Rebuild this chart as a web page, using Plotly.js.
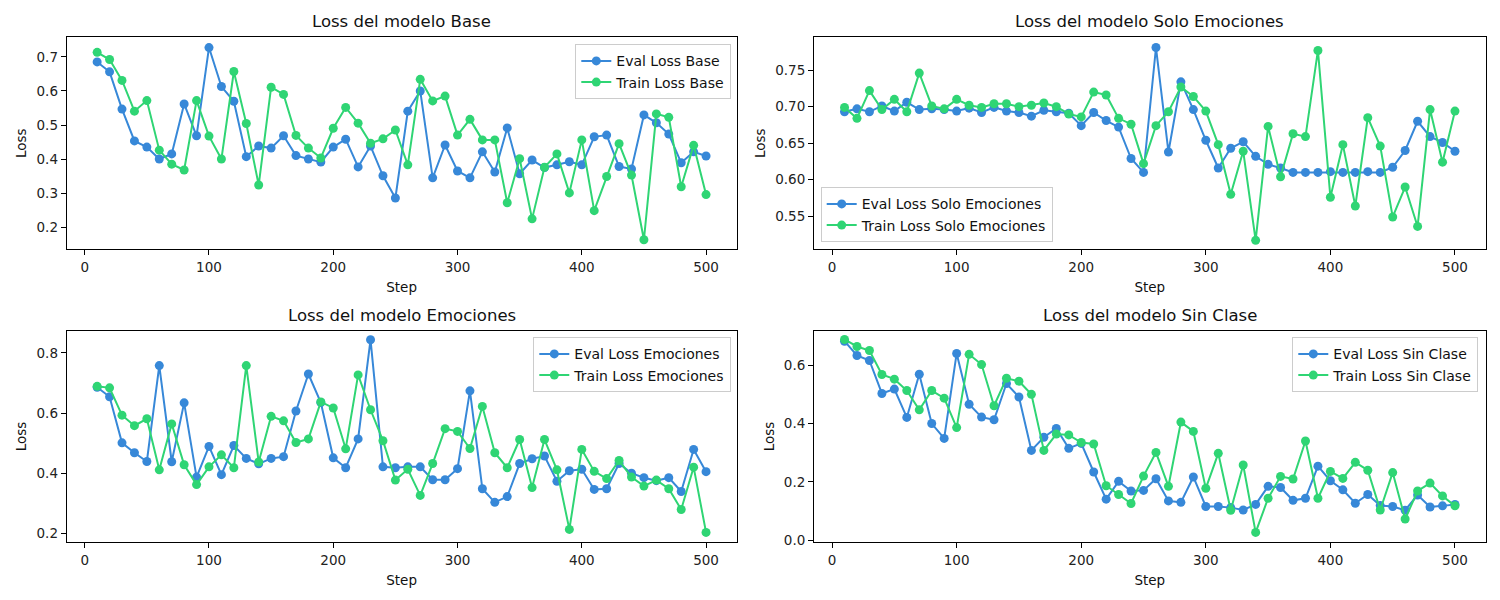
<!DOCTYPE html>
<html>
<head>
<meta charset="utf-8">
<script src="https://cdn.plot.ly/plotly-3.0.1.min.js"></script>
<style>
  html, body { margin: 0; padding: 0; background: #ffffff; }
  #chart { width: 1500px; height: 600px; }
</style>
</head>
<body>
<div id="chart"></div>
<script>
// ---- Data ----
const steps = [10,20,30,40,50,60,70,80,90,100,110,120,130,140,150,160,170,180,190,200,
  210,220,230,240,250,260,270,280,290,300,310,320,330,340,350,360,370,380,390,400,
  410,420,430,440,450,460,470,480,490,500];

const baseEval = [0.685,0.656,0.547,0.454,0.436,0.401,0.416,0.562,0.469,0.727,0.613,0.570,0.408,0.439,0.433,0.469,0.411,0.401,0.392,0.436,0.459,0.378,0.439,0.352,0.287,
  0.541,0.600,0.346,0.442,0.366,0.346,0.422,0.363,0.492,0.358,0.398,0.376,0.384,0.393,0.384,0.466,0.471,0.379,0.372,0.530,0.507,0.474,0.390,0.422,0.410];
const baseTrain = [0.713,0.692,0.631,0.541,0.572,0.427,0.386,0.369,0.572,0.468,0.401,0.657,0.505,0.325,0.611,0.590,0.470,0.433,0.404,0.491,0.552,0.506,0.447,0.460,0.486,
  0.384,0.634,0.571,0.585,0.471,0.517,0.457,0.457,0.273,0.402,0.226,0.377,0.416,0.302,0.457,0.250,0.350,0.446,0.354,0.165,0.533,0.523,0.320,0.441,0.297];

const soloEval = [0.693,0.697,0.693,0.701,0.694,0.706,0.696,0.697,0.696,0.694,0.698,0.692,0.699,0.694,0.692,0.687,0.695,0.693,0.691,0.674,0.692,0.681,0.672,0.629,0.610,
  0.781,0.638,0.734,0.696,0.654,0.616,0.643,0.652,0.632,0.621,0.616,0.610,0.610,0.610,0.611,0.610,0.610,0.611,0.610,0.617,0.640,0.680,0.659,0.651,0.639];
const soloTrain = [0.699,0.684,0.722,0.696,0.710,0.693,0.746,0.701,0.697,0.710,0.702,0.699,0.704,0.704,0.700,0.702,0.705,0.700,0.690,0.686,0.720,0.716,0.684,0.676,0.622,
  0.674,0.693,0.727,0.714,0.694,0.648,0.580,0.639,0.517,0.673,0.604,0.663,0.659,0.777,0.576,0.648,0.564,0.685,0.646,0.549,0.590,0.536,0.696,0.624,0.694];

const emoEval = [0.686,0.654,0.501,0.468,0.439,0.758,0.438,0.634,0.387,0.489,0.395,0.492,0.449,0.431,0.449,0.455,0.607,0.730,0.635,0.451,0.418,0.514,0.844,0.421,0.418,
  0.421,0.421,0.378,0.378,0.415,0.674,0.348,0.303,0.322,0.432,0.448,0.457,0.373,0.408,0.413,0.346,0.348,0.432,0.400,0.385,0.375,0.385,0.339,0.479,0.405];
const emoTrain = [0.689,0.684,0.593,0.558,0.581,0.411,0.564,0.428,0.362,0.421,0.461,0.418,0.758,0.437,0.589,0.574,0.502,0.514,0.637,0.617,0.481,0.727,0.611,0.508,0.377,
  0.413,0.326,0.432,0.548,0.539,0.482,0.622,0.468,0.418,0.512,0.352,0.512,0.411,0.213,0.479,0.406,0.382,0.442,0.387,0.357,0.377,0.348,0.279,0.420,0.203];

const sinEval = [0.682,0.633,0.616,0.503,0.518,0.421,0.569,0.400,0.349,0.640,0.466,0.422,0.413,0.537,0.491,0.308,0.353,0.383,0.315,0.332,0.234,0.141,0.202,0.169,0.171,
  0.211,0.135,0.130,0.217,0.116,0.116,0.112,0.104,0.123,0.185,0.181,0.137,0.144,0.254,0.204,0.173,0.127,0.157,0.119,0.116,0.103,0.155,0.114,0.118,0.123];
const sinTrain = [0.688,0.664,0.650,0.568,0.552,0.513,0.447,0.513,0.487,0.386,0.637,0.602,0.461,0.555,0.545,0.500,0.308,0.364,0.361,0.335,0.330,0.187,0.157,0.126,0.220,
  0.301,0.185,0.405,0.373,0.178,0.298,0.103,0.258,0.027,0.144,0.219,0.210,0.340,0.144,0.236,0.212,0.267,0.240,0.104,0.232,0.073,0.169,0.196,0.152,0.118];

const modelNames = ["Base", "Solo Emociones", "Emociones", "Sin Clase"];
const titles = modelNames.map(n => "Loss del modelo " + n);

// ---- Styling ----
const BLUE = "#3788d8";
const GREEN = "#2fd574";
const FONT = "DejaVu Sans, Liberation Sans, sans-serif";

function mk(x, y, name, color, xa, ya, leg) {
  return {
    x: x, y: y, name: name, type: "scatter", mode: "lines+markers",
    line: {color: color, width: 2},
    marker: {color: color, size: 9},
    xaxis: xa, yaxis: ya, legend: leg
  };
}

const data = [
  mk(steps, baseEval, "Eval Loss " + modelNames[0], BLUE, "x", "y", "legend"),
  mk(steps, baseTrain, "Train Loss " + modelNames[0], GREEN, "x", "y", "legend"),
  mk(steps, soloEval, "Eval Loss " + modelNames[1], BLUE, "x2", "y2", "legend2"),
  mk(steps, soloTrain, "Train Loss " + modelNames[1], GREEN, "x2", "y2", "legend2"),
  mk(steps, emoEval, "Eval Loss " + modelNames[2], BLUE, "x3", "y3", "legend3"),
  mk(steps, emoTrain, "Train Loss " + modelNames[2], GREEN, "x3", "y3", "legend3"),
  mk(steps, sinEval, "Eval Loss " + modelNames[3], BLUE, "x4", "y4", "legend4"),
  mk(steps, sinTrain, "Train Loss " + modelNames[3], GREEN, "x4", "y4", "legend4")
];

const W = 1500, H = 600;
const colX = [[66.7/W, 736.5/W], [814/W, 1485.5/W]];
const rowY = [[1 - 249.3/H, 1 - 37.3/H], [1 - 542.3/H, 1 - 330.7/H]];

function xax(dom, anchor) {
  return {
    domain: dom, anchor: anchor, range: [-14.5, 524.5],
    tickmode: "linear", tick0: 0, dtick: 100,
    showline: true, mirror: true, linecolor: "#000", linewidth: 1,
    ticks: "outside", ticklen: 5, tickwidth: 1, tickcolor: "#000",
    showgrid: false, zeroline: false,
    tickfont: {family: FONT, size: 13.5, color: "#222"},
    title: {text: "Step", font: {family: FONT, size: 13.5, color: "#111"}, standoff: 9}
  };
}
function yax(dom, anchor, range, dtick, fmt) {
  return {
    domain: dom, anchor: anchor, range: range,
    tickmode: "linear", tick0: 0, dtick: dtick, tickformat: fmt,
    showline: true, mirror: true, linecolor: "#000", linewidth: 1,
    ticks: "outside", ticklen: 5, tickwidth: 1, tickcolor: "#000",
    showgrid: false, zeroline: false,
    tickfont: {family: FONT, size: 13.5, color: "#222"},
    title: {text: "Loss", font: {family: FONT, size: 13.5, color: "#111"}, standoff: 6}
  };
}

function leg(x, y, xa, ya) {
  return {
    x: x, y: y, xanchor: xa, yanchor: ya, xref: "paper", yref: "paper",
    bgcolor: "rgba(255,255,255,0.85)", bordercolor: "#cccccc", borderwidth: 1,
    font: {family: FONT, size: 14, color: "#111"},
    tracegroupgap: 0, itemwidth: 30
  };
}

const annotations = [];
const centers = [
  [(colX[0][0]+colX[0][1])/2, rowY[0][1]],
  [(colX[1][0]+colX[1][1])/2, rowY[0][1]],
  [(colX[0][0]+colX[0][1])/2, rowY[1][1]],
  [(colX[1][0]+colX[1][1])/2, rowY[1][1]]
];
titles.forEach((t, i) => {
  annotations.push({
    text: t, x: centers[i][0], y: centers[i][1], xref: "paper", yref: "paper",
    xanchor: "center", yanchor: "bottom", yshift: 4, showarrow: false,
    font: {family: FONT, size: 16.5, color: "#111"}
  });
});

const layout = {
  width: W, height: H,
  margin: {l: 0, r: 0, t: 0, b: 0},
  paper_bgcolor: "#ffffff", plot_bgcolor: "#ffffff",
  font: {family: FONT, color: "#111"},
  xaxis: xax(colX[0], "y"),
  yaxis: yax(rowY[0], "x", [0.137, 0.757], 0.1, ".1f"),
  xaxis2: xax(colX[1], "y2"),
  yaxis2: yax(rowY[0], "x2", [0.5047, 0.795], 0.05, ".2f"),
  xaxis3: xax(colX[0], "y3"),
  yaxis3: yax(rowY[1], "x3", [0.170, 0.874], 0.2, ".1f"),
  xaxis4: xax(colX[1], "y4"),
  yaxis4: yax(rowY[1], "x4", [-0.0068, 0.718], 0.2, ".1f"),
  legend: leg(731.3/W, 1 - 44.3/H, "right", "top"),
  legend2: leg(820.7/W, 1 - 242.3/H, "left", "bottom"),
  legend3: leg(731.3/W, 1 - 337.3/H, "right", "top"),
  legend4: leg(1478.3/W, 1 - 337.3/H, "right", "top"),
  annotations: annotations,
  showlegend: true
};

Plotly.newPlot("chart", data, layout, {displayModeBar: false, responsive: false});
</script>
</body>
</html>
